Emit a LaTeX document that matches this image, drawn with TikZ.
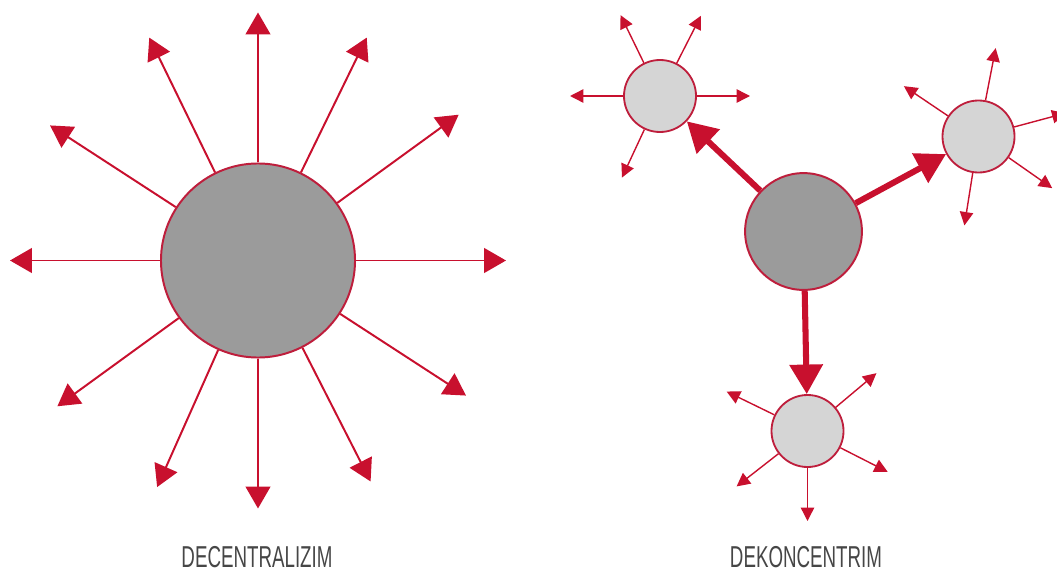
\documentclass[tikz,border=0pt]{standalone}
\usepackage{fontspec}
\newfontfamily\capfont{Liberation Sans}[FakeStretch=0.62]
\usetikzlibrary{arrows.meta}
\definecolor{arrred}{RGB}{200,16,46}
\definecolor{rimred}{RGB}{190,30,60}
\definecolor{hubgray}{RGB}{155,155,155}
\definecolor{satgray}{RGB}{213,213,213}
\definecolor{capgray}{RGB}{70,70,70}

\begin{document}
\begin{tikzpicture}[x=0.025cm,y=0.025cm,
  hub/.style={circle,draw=rimred,line width=1.4pt,fill=hubgray,inner sep=0pt},
  sat/.style={circle,draw=rimred,line width=1.3pt,fill=satgray,inner sep=0pt,minimum size=1.8cm},
  ray/.style={draw=arrred,line width=1.4pt,-{Triangle[length=15.5pt,width=17.5pt]}},
  spark/.style={draw=arrred,line width=1pt,-{Triangle[length=9.5pt,width=9.5pt]}},
  feed/.style={draw=arrred,line width=4.3pt,-{Triangle[length=21pt,width=23pt]}},
  caption/.style={text=capgray,font=\capfont\fontsize{21.5}{24}\selectfont}]
\useasboundingbox (0,0) rectangle (1057,575);
\clip (0,0) rectangle (1057,575);

\node[hub,minimum size=4.85cm] (big) at (258,314.5) {};
\foreach \a in {0,36,64,90,116,147,180,216,246,270,297,327}{
  \path (big) ++(\a:248) coordinate (bt\a);
  \draw[ray] (big.\a) -- (bt\a);
}

\node[hub,minimum size=2.92cm] (hub) at (803.5,343.5) {};
\node[sat] (satA) at (660,479) {};
\node[sat] (satB) at (978.5,438.5) {};
\node[sat] (satC) at (807.5,144) {};

\foreach \s/\angles in {satA/{0,63,116,180,245},satB/{15,79,146,261,325},satC/{40,154,218,270,333}}{
  \foreach \a in \angles{
    \path (\s) ++(\a:90) coordinate (\s-t\a);
    \draw[spark] (\s.\a) -- (\s-t\a);
  }
}

\draw[feed] (hub) -- (satA);
\draw[feed] (hub) -- (satB);
\draw[feed] (hub) -- (satC);

\node[caption] (left) at (257,18) {DECENTRALIZIM};
\node[caption] (right) at (806,18) {DEKONCENTRIM};
\end{tikzpicture}
\end{document}
